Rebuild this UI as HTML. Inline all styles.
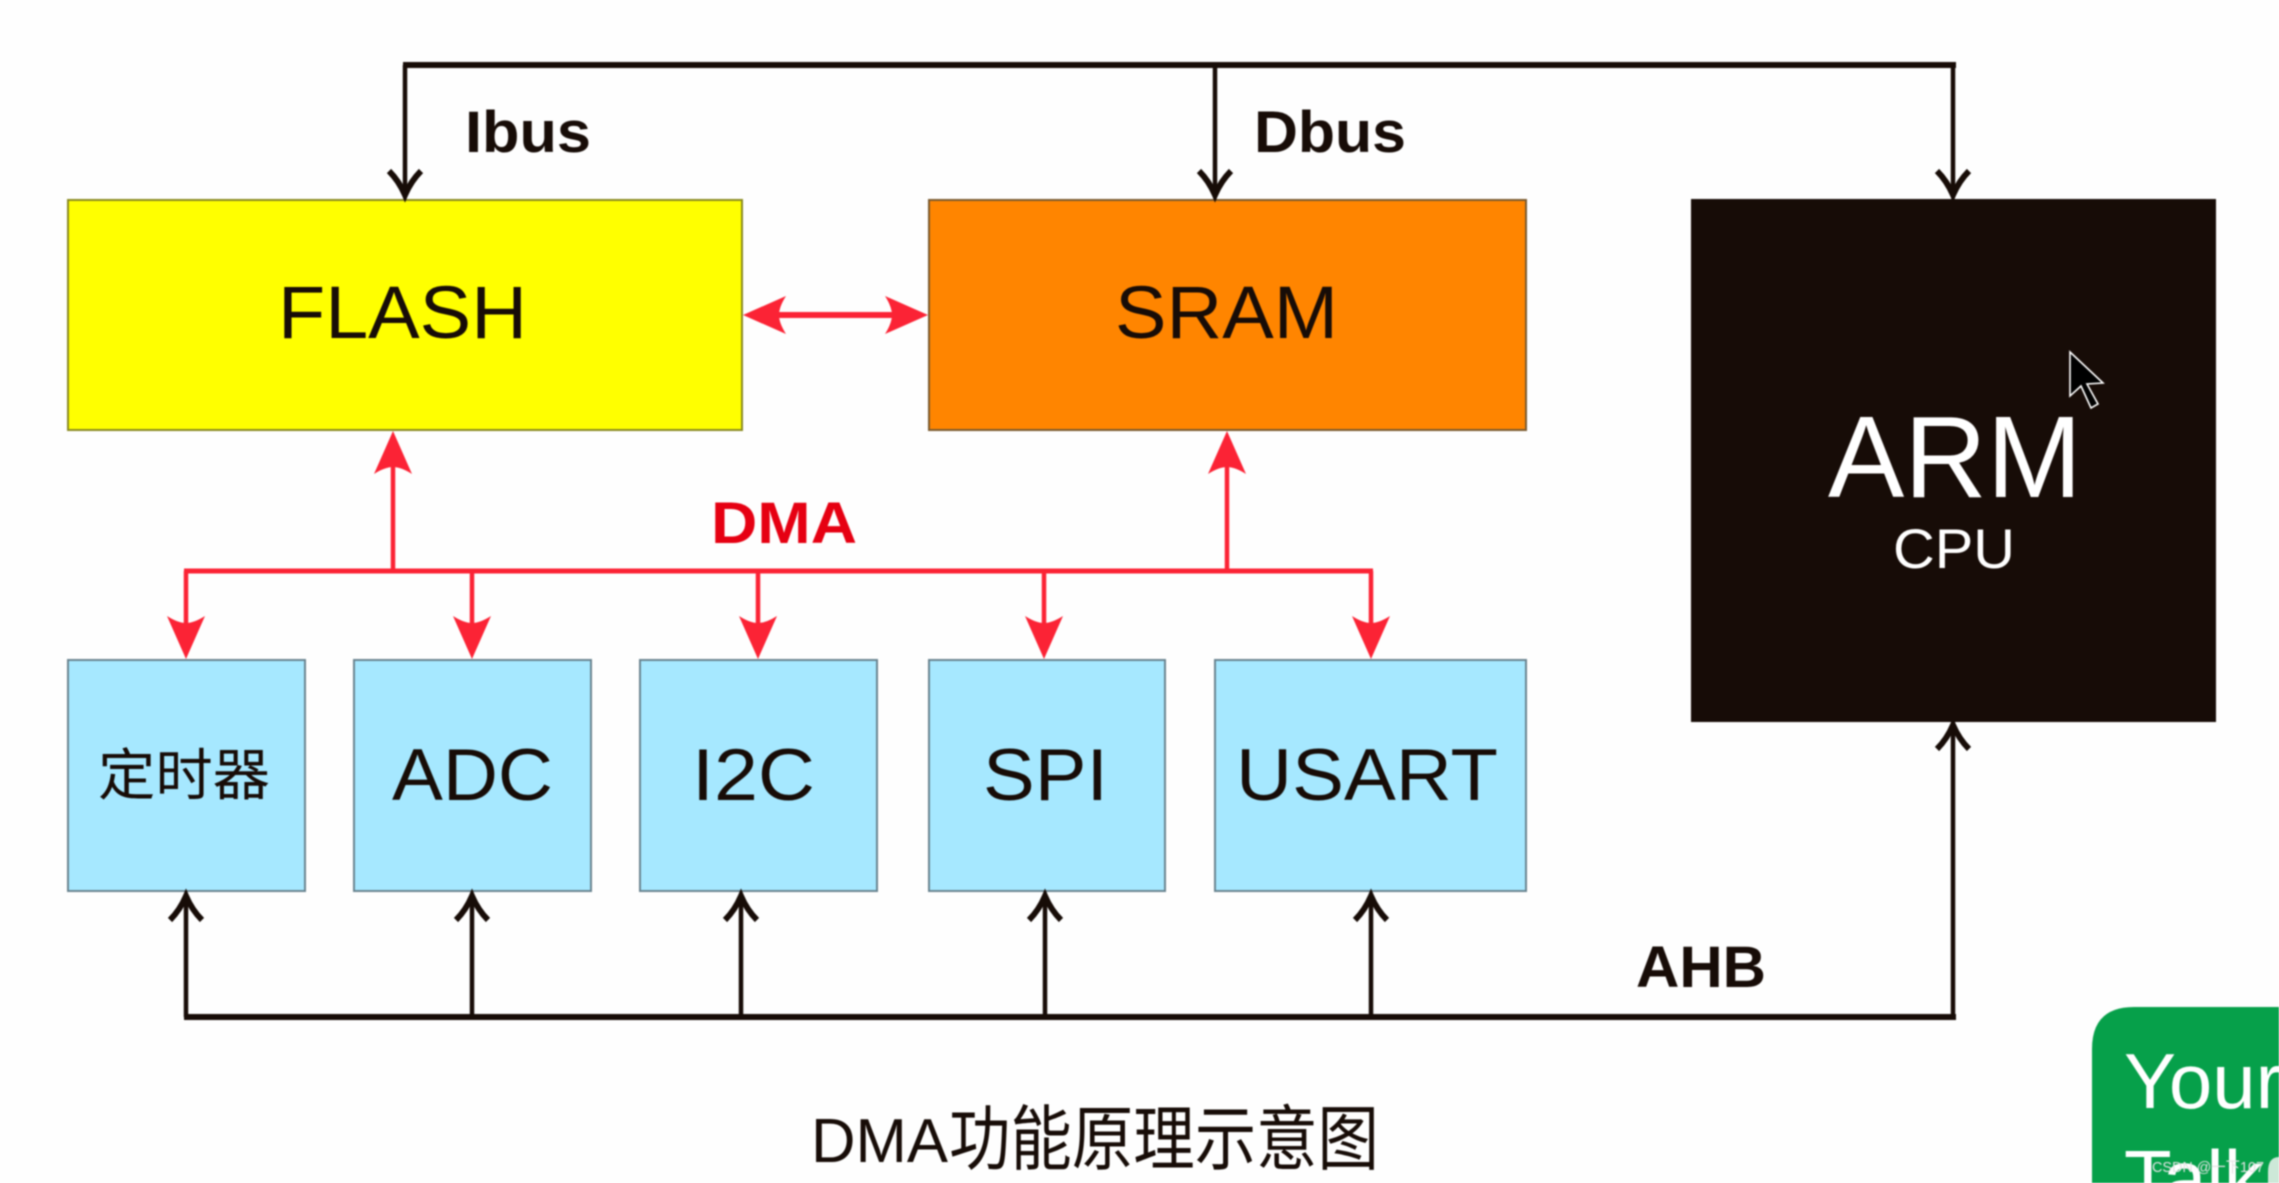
<!DOCTYPE html>
<html>
<head>
<meta charset="utf-8">
<style>
html,body{margin:0;padding:0;background:#fefefe;width:2279px;height:1183px;overflow:hidden}
svg{display:block;filter:blur(0.8px)}
text{font-family:"Liberation Sans","Noto Sans CJK SC",sans-serif}
</style>
</head>
<body>
<svg xmlns="http://www.w3.org/2000/svg" width="2279" height="1183" viewBox="0 0 2279 1183">
<defs>
<path id="b" d="M-16,-27 Q-6,-17 0,-3 Q6,-17 16,-27" fill="none" stroke="#170c07" stroke-width="6"/>
<path id="r" d="M0,0 L-19,-43 Q-8,-36 0,-36 Q8,-36 19,-43 Z" fill="#fb2335"/>
</defs>

<!-- boxes -->
<g stroke-width="2">
<rect x="68" y="200" width="674" height="230" fill="#ffff00" stroke="#8a8a20"/>
<rect x="929" y="200" width="597" height="230" fill="#ff8500" stroke="#7a5a30"/>
<rect x="1692" y="200" width="523" height="521" fill="#170c07" stroke="#170c07"/>
<rect x="68" y="660" width="237" height="231" fill="#a6e8ff" stroke="#6a8490"/>
<rect x="354" y="660" width="237" height="231" fill="#a6e8ff" stroke="#6a8490"/>
<rect x="640" y="660" width="237" height="231" fill="#a6e8ff" stroke="#6a8490"/>
<rect x="929" y="660" width="236" height="231" fill="#a6e8ff" stroke="#6a8490"/>
<rect x="1215" y="660" width="311" height="231" fill="#a6e8ff" stroke="#6a8490"/>
</g>

<!-- top bus -->
<g stroke="#170c07" fill="none">
<path d="M403,65 H1956" stroke-width="6"/>
<path d="M405,65 V195 M1215,65 V195 M1953,65 V195" stroke-width="4.5"/>
<path d="M184,1017 H1956" stroke-width="6"/>
<path d="M186,1017 V896 M472,1017 V896 M741,1017 V896 M1045,1017 V896 M1371,1017 V896 M1953,1017 V724" stroke-width="4.5"/>
</g>
<use href="#b" transform="translate(405,198)"/>
<use href="#b" transform="translate(1215,198)"/>
<use href="#b" transform="translate(1953,198)"/>
<use href="#b" transform="translate(186,893) rotate(180)"/>
<use href="#b" transform="translate(472,893) rotate(180)"/>
<use href="#b" transform="translate(741,893) rotate(180)"/>
<use href="#b" transform="translate(1045,893) rotate(180)"/>
<use href="#b" transform="translate(1371,893) rotate(180)"/>
<use href="#b" transform="translate(1953,722) rotate(180)"/>

<!-- red DMA -->
<g stroke="#fb2335" fill="none">
<path d="M184,571 H1373" stroke-width="5"/>
<path d="M186,571 V625 M472,571 V625 M758,571 V625 M1044,571 V625 M1371,571 V625 M393,571 V465 M1227,571 V465" stroke-width="4.5"/>
<path d="M775,315 H895" stroke-width="6"/>
</g>
<use href="#r" transform="translate(186,659)"/>
<use href="#r" transform="translate(472,659)"/>
<use href="#r" transform="translate(758,659)"/>
<use href="#r" transform="translate(1044,659)"/>
<use href="#r" transform="translate(1371,659)"/>
<use href="#r" transform="translate(393,431) rotate(180)"/>
<use href="#r" transform="translate(1227,431) rotate(180)"/>
<use href="#r" transform="translate(743,315) rotate(90)"/>
<use href="#r" transform="translate(928,315) rotate(-90)"/>

<!-- labels -->
<g fill="#170c07">
<text x="278" y="338" font-size="74" textLength="249" lengthAdjust="spacingAndGlyphs">FLASH</text>
<text x="1115" y="338" font-size="74" textLength="223" lengthAdjust="spacingAndGlyphs">SRAM</text>
<text x="98" y="795" font-size="56" textLength="172" lengthAdjust="spacingAndGlyphs">定时器</text>
<text x="392" y="800" font-size="73" textLength="161" lengthAdjust="spacingAndGlyphs">ADC</text>
<text x="692" y="800" font-size="73" textLength="123" lengthAdjust="spacingAndGlyphs">I2C</text>
<text x="983" y="800" font-size="73" textLength="125" lengthAdjust="spacingAndGlyphs">SPI</text>
<text x="1236" y="800" font-size="73" textLength="262" lengthAdjust="spacingAndGlyphs">USART</text>
<g font-weight="bold" font-size="58">
<text x="465" y="152" textLength="126" lengthAdjust="spacingAndGlyphs">Ibus</text>
<text x="1254" y="152" textLength="152" lengthAdjust="spacingAndGlyphs">Dbus</text>
<text x="1636" y="987" textLength="130" lengthAdjust="spacingAndGlyphs">AHB</text>
</g>
<text x="811" y="1162" font-size="62" textLength="137" lengthAdjust="spacingAndGlyphs">DMA</text>
<text x="949" y="1164" font-size="71" textLength="430" lengthAdjust="spacingAndGlyphs">功能原理示意图</text>
</g>
<text x="711" y="543" font-size="58" font-weight="bold" fill="#e60012" textLength="146" lengthAdjust="spacingAndGlyphs">DMA</text>
<g fill="#ffffff">
<text x="1828" y="497" font-size="116" textLength="254" lengthAdjust="spacingAndGlyphs">ARM</text>
<text x="1893" y="568" font-size="56" textLength="122" lengthAdjust="spacingAndGlyphs">CPU</text>
</g>

<!-- cursor -->
<path d="M2070,352 L2103,383 L2087,384 L2098,404 L2091,408 L2081,386 L2070,396 Z" fill="#000" stroke="#fff" stroke-width="1.6"/>

<!-- green card -->
<path d="M2279,1007 H2134 Q2092,1007 2092,1049 V1183 H2279 Z" fill="#06a04a"/>
<text x="2124" y="1108" font-size="78" fill="#fff">Your</text>
<text x="2124" y="1205" font-size="78" fill="#fff">Talk</text>
<path d="M2279,1157 Q2268,1157 2268,1172 V1183 H2279 Z" fill="#cde8d8"/>
<text x="2152" y="1172" font-size="15" fill="#e4e4e4" textLength="112" lengthAdjust="spacingAndGlyphs">CSDN @一下107</text>
</svg>
</body>
</html>
